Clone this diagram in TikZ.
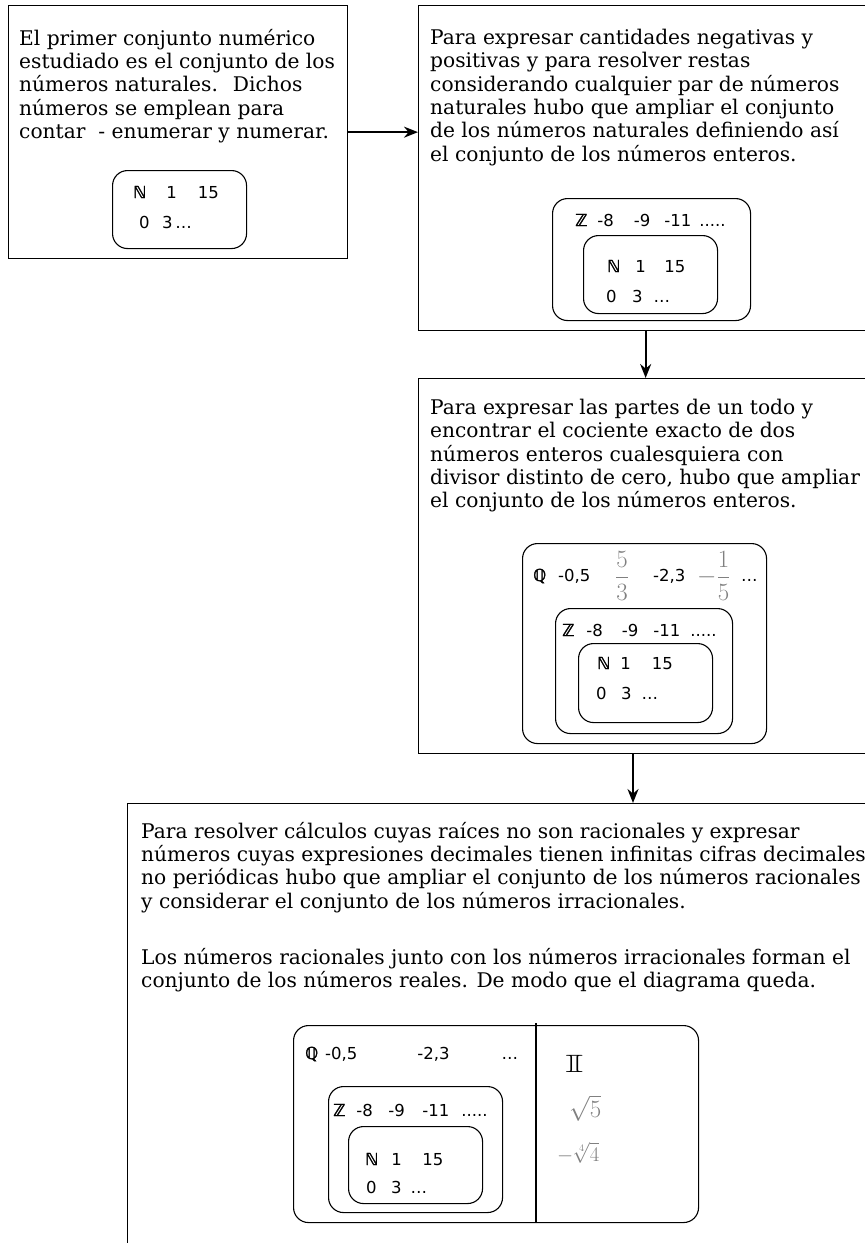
\documentclass[tikz,border=0pt]{standalone}
\usepackage{amssymb}
\usepackage{graphicx}
\usepackage{fontspec}
\setmainfont{DejaVu Serif}
\newfontfamily\numfont{DejaVu Sans}
\newfontfamily\dsfont[FakeBold=2]{DejaVu Sans}
\usetikzlibrary{positioning,arrows.meta}

\begin{document}
\begin{tikzpicture}[x=1pt,y=-1pt,
    bigbox/.style={draw,line width=1.3pt,anchor=north west,inner sep=0pt},
    setbox/.style={draw,line width=1.1pt,rounded corners=15pt,anchor=north
        west,inner sep=0pt},
    txt/.style={anchor=north west,align=left,inner sep=0pt,
        font=\fontsize{20.2}{23.3}\selectfont},
    num/.style={anchor=base west,inner sep=0pt,
        font=\numfont\fontsize{16.5}{20}\selectfont},
    frac/.style={anchor=west,inner sep=0pt,text=gray,
        font=\fontsize{23}{24}\selectfont},
    arr/.style={-{Stealth[length=14pt,width=11pt]},line width=1.8pt}]

    \useasboundingbox (0,0) rectangle (865,1243);
    \clip (0,0) rectangle (865,1243);

    % the frames
    \node[bigbox,minimum width=339,minimum height=253] (box1) at (8,5) {};
    \node[bigbox,minimum width=454,minimum height=325] (box2) at (418,5) {};
    \node[bigbox,minimum width=454,minimum height=375] (box3) at (418,378) {};
    \node[bigbox,minimum width=780,minimum height=500] (box4) at (127,803) {};

    % the texts
    \node[txt] (t1) at (19,29) {El primer conjunto numérico\\estudiado es el
        conjunto de los\\números naturales.~ Dichos\\números se emplean
        para\\contar~ - enumerar y numerar.};
    \node[txt] (t2) at (430,29) {Para expresar cantidades negativas
        y\\positivas y para resolver restas\\considerando cualquier par de
        números\\naturales hubo que ampliar el conjunto\\de los números
        naturales definiendo así\\el conjunto de los números enteros.};
    \node[txt] (t3) at (430,399) {Para expresar las partes de un todo
        y\\encontrar el cociente exacto de dos\\números enteros cualesquiera
        con\\divisor distinto de cero, hubo que ampliar\\el conjunto de los
        números enteros.};
    \node[txt] (t4) at (141,822) {Para resolver cálculos cuyas raíces no
        son racionales y expresar\\números cuyas expresiones decimales
        tienen infinitas cifras decimales\\no periódicas hubo que ampliar el
        conjunto de los números racionales\\y considerar el conjunto de los
        números irracionales.\\[33pt]Los números racionales junto con los
        números irracionales forman el\\conjunto de los números reales. De
        modo que el diagrama queda.};

    % first set
    \node[setbox,minimum width=134,minimum height=78] (n1) at (112,170) {};
    \node[num] (n1a) at (133,198) {{\dsfont ℕ}\hspace{20pt}1\hspace{21pt}15};
    \node[num] (n1b) at (139,228) {0\hspace{12.5pt}3\,…};

    % second set
    \node[setbox,minimum width=198,minimum height=122] (z2) at (552,198) {};
    \node[num] (z2a) at (575,226) {{\dsfont ℤ}\hspace{10pt}-8\hspace{20pt}-9\hspace{14pt}-11\hspace{8pt}.....};
    \node[setbox,minimum width=134,minimum height=78] (n2) at (583,235) {};
    \node[num] (n2a) at (607,272) {{\dsfont ℕ}\hspace{15pt}1\hspace{18.5pt}15};
    \node[num] (n2b) at (606,302) {0\hspace{15.5pt}3\hspace{11pt}…};

    % third set
    \node[setbox,minimum width=244,minimum height=200] (q3) at (522,543) {};
    \node[num] (q3a) at (533,581) {{\dsfont ℚ}\hspace{12pt}-0,5};
    \node[frac] (q3b) at (615,576) {$\displaystyle\frac{5}{3}$};
    \node[num] (q3c) at (653,581) {-2,3};
    \node[frac] (q3d) at (697,576) {$-\displaystyle\frac{1}{5}$};
    \node[num] (q3e) at (741,581) {…};
    \node[setbox,minimum width=177,minimum height=125] (z3) at (555,608) {};
    \node[num] (z3a) at (562,636) {{\dsfont ℤ}\hspace{12pt}-8\hspace{19pt}-9\hspace{15pt}-11\hspace{10pt}.....};
    \node[setbox,minimum width=134,minimum height=79] (n3) at (578,643) {};
    \node[num] (n3a) at (597,669) {{\dsfont ℕ}\hspace{10pt}1\hspace{21pt}15};
    \node[num] (n3b) at (596,699) {0\hspace{14.5pt}3\hspace{10pt}…};

    % the real numbers
    \node[setbox,minimum width=405,minimum height=197] (r4) at (293,1025) {};
    \node[num] (q4a) at (305,1059) {{\dsfont ℚ}\hspace{7pt}-0,5\hspace{60pt}-2,3\hspace{52pt}…};
    \node[setbox,minimum width=174,minimum height=126] (z4) at (328,1086) {};
    \node[num] (z4a) at (333,1116) {{\dsfont ℤ}\hspace{11pt}-8\hspace{15.5pt}-9\hspace{17.5pt}-11\hspace{12pt}.....};
    \node[setbox,minimum width=134,minimum height=77] (n4) at (348,1126) {};
    \node[num] (n4a) at (365,1165) {{\dsfont ℕ}\hspace{13pt}1\hspace{20.5pt}15};
    \node[num] (n4b) at (366,1193) {0\hspace{14.5pt}3\hspace{9pt}…};
    \coordinate (cut) at (536,1023);
    \draw[line width=2pt] (cut) -- (cut |- r4.south);
    \node[anchor=base west,inner sep=0pt,font=\fontsize{25}{25}\selectfont]
        (irr) at (565,1072) {\scalebox{1.9}[1]{$\mathbb{I}$}};
    \node[frac] (rt5) at (569,1108) {$\sqrt{5}$};
    \node[frac,font=\fontsize{20}{20}\selectfont] (rt4) at (557,1153)
        {$-\sqrt[4]{4}$};

    % the arrows
    \draw[arr] (box1.east) -- (box1.east -| box2.west);
    \draw[arr] (box2.south) -- (box3.north);
    \coordinate (a3) at (633,753);
    \draw[arr] (a3) -- (a3 |- box4.north);
\end{tikzpicture}
\end{document}
